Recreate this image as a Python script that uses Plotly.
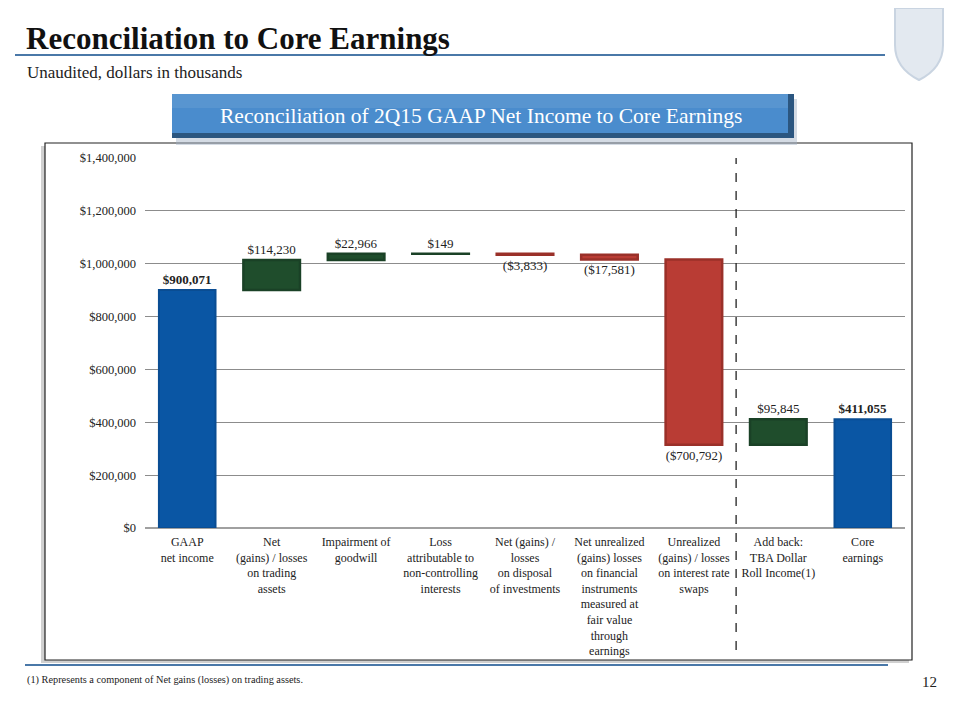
import plotly.graph_objects as go

# chart data (dollars in thousands)
categories = [
    "GAAP<br>net income",
    "Net<br>(gains) / losses<br>on trading<br>assets",
    "Impairment of<br>goodwill",
    "Loss<br>attributable to<br>non-controlling<br>interests",
    "Net (gains) /<br>losses<br>on disposal<br>of investments",
    "Net unrealized<br>(gains) losses<br>on financial<br>instruments<br>measured at<br>fair value<br>through<br>earnings",
    "Unrealized<br>(gains) / losses<br>on interest rate<br>swaps",
    "Add back:<br>TBA Dollar<br>Roll Income(1)",
    "Core<br>earnings",
]
values = [900071, 114230, 22966, 149, -3833, -17581, -700792, 95845, 411055]
measures = ["absolute", "relative", "relative", "relative", "relative",
            "relative", "relative", "relative", "total"]
labels = ["<b>$900,071</b>", "$114,230", "$22,966", "$149", "($3,833)",
          "($17,581)", "($700,792)", "$95,845", "<b>$411,055</b>"]

SERIF = "Liberation Serif, DejaVu Serif, serif"

# plot area in window pixels; the page body adds an 8px margin
L, R, T, B = 145, 905, 158, 528
W, H = 960, 720
OFF = 8


def px(x):
    return (x - L) / (R - L)


def py(y):
    return (B - y) / (B - T)


fig = go.Figure(go.Waterfall(
    x=categories,
    y=values,
    measure=measures,
    text=labels,
    textposition="outside",
    textfont=dict(family=SERIF, size=13, color="#222222"),
    connector=dict(visible=False),
    increasing=dict(marker=dict(color="#1f4d2c", line=dict(color="#1a4126", width=2.5))),
    decreasing=dict(marker=dict(color="#b93c34", line=dict(color="#9a3029", width=2.5))),
    totals=dict(marker=dict(color="#0a56a4", line=dict(color="#0a4d93", width=2))),
    cliponaxis=False,
    hoverinfo="skip",
))

shapes = []
# chart frame with shadow
shapes.append(dict(type="rect", xref="paper", yref="paper",
                   x0=px(41), x1=px(909), y0=py(663), y1=py(146),
                   line=dict(width=0), fillcolor="rgba(120,120,120,0.35)", layer="below"))
shapes.append(dict(type="rect", xref="paper", yref="paper",
                   x0=px(45), x1=px(912), y0=py(660), y1=py(143),
                   line=dict(color="#222222", width=1.2), fillcolor="white", layer="below"))
# banner
shapes.append(dict(type="rect", xref="paper", yref="paper",
                   x0=px(176), x1=px(797), y0=py(145), y1=py(99),
                   line=dict(width=0), fillcolor="rgba(160,175,195,0.45)", layer="above"))
shapes.append(dict(type="rect", xref="paper", yref="paper",
                   x0=px(172), x1=px(794), y0=py(138), y1=py(94),
                   line=dict(width=0), fillcolor="#2b5680", layer="above"))
shapes.append(dict(type="rect", xref="paper", yref="paper",
                   x0=px(172), x1=px(788), y0=py(133), y1=py(94),
                   line=dict(width=0), fillcolor="#4a8ccd", layer="above"))
shapes.append(dict(type="rect", xref="paper", yref="paper",
                   x0=px(172), x1=px(788), y0=py(108), y1=py(94),
                   line=dict(width=0), fillcolor="rgba(255,255,255,0.08)", layer="above"))
# title rule and footer rule
shapes.append(dict(type="line", xref="paper", yref="paper",
                   x0=px(15), x1=px(885), y0=py(55), y1=py(55),
                   line=dict(color="#4a78a8", width=2)))
shapes.append(dict(type="line", xref="paper", yref="paper",
                   x0=px(25), x1=px(888), y0=py(665), y1=py(665),
                   line=dict(color="#4a78a8", width=2)))
# dashed separator before the add-back bar
shapes.append(dict(type="line", xref="x", yref="paper",
                   x0=6.5, x1=6.5, y0=py(650), y1=1,
                   line=dict(color="#222222", width=1.3, dash="dash")))
# pale shield in the corner
sx = [px(v) for v in (895, 943, 943, 919, 895)]
sy = [py(v) for v in (8, 8, 45, 80, 45)]
shield = (f"M {sx[0]},{sy[0]} L {sx[1]},{sy[1]} L {sx[2]},{sy[2]} "
          f"Q {sx[2]},{py(68)} {sx[3]},{sy[3]} Q {sx[0]},{py(68)} {sx[4]},{sy[4]} Z")
shapes.append(dict(type="path", xref="paper", yref="paper", path=shield,
                   fillcolor="#e3e9f0", line=dict(color="#c9d4e1", width=2)))

annotations = [
    dict(text="<b>Reconciliation to Core Earnings</b>", x=px(24), y=py(38),
         font=dict(family=SERIF, size=31, color="#111111")),
    dict(text="Unaudited, dollars in thousands", x=px(25), y=py(73),
         font=dict(family=SERIF, size=17, color="#222222")),
    dict(text="(1) Represents a component of Net gains (losses) on trading assets.",
         x=px(25), y=py(680), font=dict(family=SERIF, size=10.3, color="#222222")),
]
for a in annotations:
    a.update(xref="paper", yref="paper", xanchor="left", yanchor="middle", showarrow=False)
annotations.append(dict(text="Reconciliation of 2Q15 GAAP Net Income to Core Earnings",
                        x=px(481), y=py(116), xref="paper", yref="paper", showarrow=False,
                        xanchor="center", yanchor="middle",
                        font=dict(family=SERIF, size=21.5, color="white")))
annotations.append(dict(text="12", x=px(929), y=py(682), xref="paper", yref="paper",
                        showarrow=False, xanchor="center", yanchor="middle",
                        font=dict(family=SERIF, size=15, color="#222222")))

fig.update_layout(
    width=W - OFF, height=H - OFF,
    margin=dict(l=L - OFF, r=W - R, t=T - OFF, b=H - B),
    paper_bgcolor="white", plot_bgcolor="rgba(0,0,0,0)",
    showlegend=False,
    waterfallgap=0.33,
    shapes=shapes,
    annotations=annotations,
    font=dict(family=SERIF, color="#222222"),
)
fig.update_xaxes(tickangle=0, tickfont=dict(family=SERIF, size=12, color="#222222"),
                 showgrid=False, showline=False, ticks="", ticklabelstandoff=5)
fig.update_yaxes(range=[0, 1400000], dtick=200000, tickformat="$,.0f",
                 tickfont=dict(family=SERIF, size=12.5, color="#222222"),
                 gridcolor="#8c8c8c", gridwidth=1, zeroline=True,
                 zerolinecolor="#a0a0a0", zerolinewidth=2, showline=False,
                 ticklabelstandoff=8)

fig.write_html("out.html")
